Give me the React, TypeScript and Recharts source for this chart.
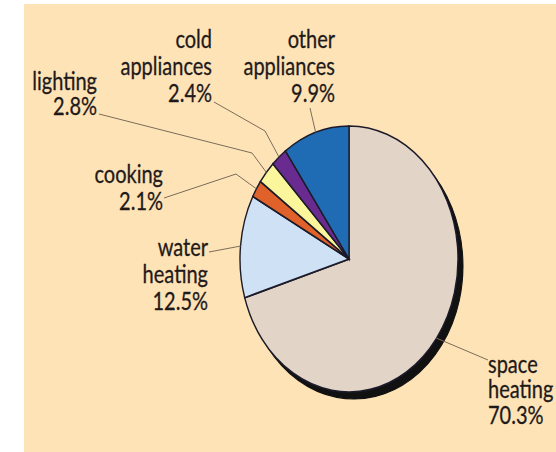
import { Cell, Pie, PieChart } from "recharts";

const categories = [
  "space heating",
  "water heating",
  "cooking",
  "lighting",
  "cold appliances",
  "other appliances",
];
const shares = [70.3, 12.5, 2.1, 2.8, 2.4, 9.9];
const sliceColors = ["#e2d4c7", "#cfe2f5", "#e0612a", "#fbf69b", "#6a2b90", "#1f6cb5"];

const chartData = categories.map((name, i) => ({ name, value: shares[i] }));

// hand placed callouts, one per slice (first point of leader is next to the text)
const labelLayout = [
  { x: 488, y: 373, anchor: "start", lh: 25.5, leader: [[488, 360]] },
  { x: 208, y: 256, anchor: "end", lh: 27, leader: [[209, 252]] },
  { x: 163, y: 183, anchor: "end", lh: 27, leader: [[164, 198], [236, 174]] },
  { x: 97, y: 90, anchor: "end", lh: 25.5, leader: [[99, 114], [252, 153]] },
  { x: 212, y: 48, anchor: "end", lh: 27, leader: [[214, 102], [265, 131]] },
  { x: 335, y: 48, anchor: "end", lh: 27, leader: [[310, 108]] },
];

const CX = 349;
const CY = 259;
const RX = 109;
const SQUASH = 1.22; // pie is taller than it is wide
const RADIAN = Math.PI / 180;

const renderLabel = (props: any) => {
  const { cx, cy, midAngle, outerRadius, index, name, value } = props;
  const layout = labelLayout[index];
  const ex = cx + outerRadius * Math.cos(-midAngle * RADIAN);
  const ey = cy + outerRadius * SQUASH * Math.sin(-midAngle * RADIAN);
  const pts = [...layout.leader, [ex, ey]].map((p) => p.join(",")).join(" ");
  const lines = [...String(name).split(" "), `${value}%`];
  return (
    <g>
      <polyline points={pts} fill="none" stroke="#7c6d5a" strokeWidth={1} />
      <text
        transform={`translate(${layout.x},${layout.y}) scale(0.8,1)`}
        textAnchor={layout.anchor}
        fontFamily="Lato, 'Open Sans', sans-serif"
        fontSize={25}
        fill="#1e1a1a"
        stroke="#1e1a1a"
        strokeWidth={0.3}
      >
        {lines.map((t, k) => (
          <tspan key={k} x={0} y={k * layout.lh}>
            {t}
          </tspan>
        ))}
      </text>
    </g>
  );
};

export default function App() {
  return (
    <div
      style={{
        position: "absolute",
        left: 0,
        top: 0,
        width: 556,
        height: 452,
        background: "#fff",
        overflow: "hidden",
      }}
    >
      <style>{`
        .pie-shadow path.recharts-sector { transform: scale(1, ${SQUASH}); transform-origin: ${CX + 5}px ${CY + 7}px; }
        .pie-main path.recharts-sector { transform: scale(1, ${SQUASH}); transform-origin: ${CX}px ${CY}px; }
      `}</style>
      <div
        style={{
          position: "absolute",
          left: 24,
          top: 4,
          width: 532,
          height: 448,
          background: "#fee3b7",
        }}
      />
      <div
        style={{
          position: "absolute",
          left: -8,
          top: 6,
          fontFamily: "Lato, sans-serif",
          fontSize: 30,
          color: "#333",
        }}
      >
        )
      </div>
      <div style={{ position: "absolute", left: 0, top: 0 }}>
        <PieChart width={556} height={452} margin={{ top: 0, right: 0, bottom: 0, left: 0 }}>
          <Pie
            className="pie-shadow"
            data={chartData}
            dataKey="value"
            nameKey="name"
            cx={CX + 5}
            cy={CY + 7}
            outerRadius={RX}
            startAngle={90}
            endAngle={-270}
            fill="#111"
            stroke="#111"
            strokeWidth={1}
            isAnimationActive={false}
          />
          <Pie
            className="pie-main"
            data={chartData}
            dataKey="value"
            nameKey="name"
            cx={CX}
            cy={CY}
            outerRadius={RX}
            startAngle={90}
            endAngle={-270}
            stroke="#1c1b2a"
            strokeWidth={1.4}
            label={renderLabel}
            labelLine={false}
            isAnimationActive={false}
          >
            {chartData.map((_, i) => (
              <Cell key={`cell-${i}`} fill={sliceColors[i]} />
            ))}
          </Pie>
        </PieChart>
      </div>
    </div>
  );
}
